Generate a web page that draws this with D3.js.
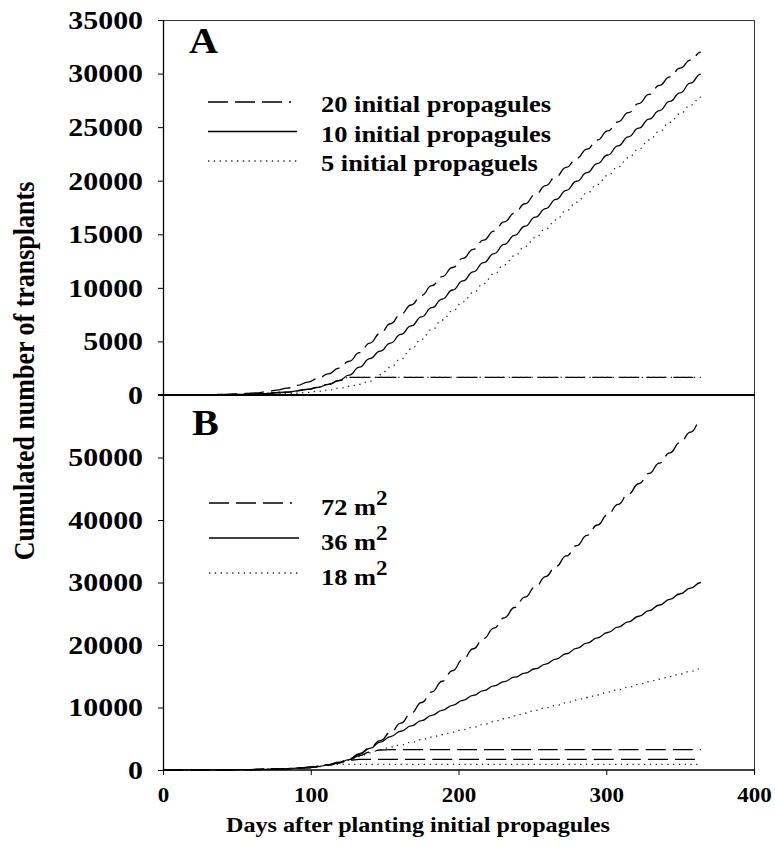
<!DOCTYPE html>
<html lang="en">
<head>
<meta charset="UTF-8">
<title>transplants</title>
<style>
    body { margin: 0; background-color: #fff; }
    svg { display: block; }
    text { font-family: "Liberation Serif", "Times New Roman", serif; font-weight: bold; fill: #000; }
    .curve { fill: none; stroke: #000; stroke-width: 1.3px; }
    .dash { stroke-dasharray: 20,7; }
    .dot { stroke: #222; stroke-dasharray: 1.3,4.5; }
    .frame { stroke: #333; stroke-width: 1px; }
</style>
</head>
<body>
<script src="https://d3js.org/d3.v7.min.js"></script>
<script>
    // sampling days (weekly)
    var days = [0,7,14,21,28,35,42,49,56,63,70,77,84,91,98,105,112,119,126,133,140,147,154,161,168,175,182,189,196,203,
        210,217,224,231,238,245,252,259,266,273,280,287,294,301,308,315,322,329,336,343,350,357,364];

    // panel A : number of initial propagules
    var a20 = [0,5,10,20,30,45,65,95,140,200,300,450,650,900,1200,1550,1980,2500,3150,3950,4850,5750,6650,7550,8400,9300,
        10200,11050,11900,12750,13600,14450,15300,16150,17000,17850,18700,19550,20400,21250,22100,22950,23800,24650,25500,
        26350,27200,28050,28900,29700,30500,31250,32000];
    var a10 = [0,3,6,10,15,22,32,45,65,95,135,190,270,380,520,720,1000,1350,1850,2600,3400,4100,4850,5650,6450,7300,8150,
        8950,9800,10650,11500,12350,13200,14050,14900,15750,16600,17400,18250,19100,19950,20750,21600,22400,23250,24100,
        24900,25750,26550,27400,28200,29100,29950];
    var a5 = [0,1,3,5,8,12,17,24,34,48,68,95,130,180,250,340,460,620,800,1000,1300,1900,2600,3350,4300,5200,6100,7000,
        7850,8700,9550,10400,11300,12150,13000,13850,14700,15500,16350,17200,18000,18850,19650,20500,21300,22150,22950,
        23800,24600,25450,26250,27050,27800];
    // plateau (day, value)
    var capA = [[0,0],[28,15],[56,65],[84,270],[98,520],[105,720],[112,1000],[119,1350],[126,1640],[364,1640]];

    // panel B : garden area
    var b72 = [0,2,5,8,12,18,26,38,55,80,115,160,220,300,400,580,870,1250,1800,2600,3550,4700,6000,7500,9100,10800,12500,
        14200,15900,17700,19400,21050,22700,24350,26000,27650,29300,30950,32600,34250,35900,37550,39200,40850,42500,44150,
        45800,47450,49100,50750,52400,54050,55800];
    var b36 = [0,2,5,8,12,18,26,38,55,80,115,160,220,300,400,560,800,1150,1650,2500,3450,4450,5350,6200,7050,7900,8750,
        9550,10350,11150,11950,12700,13450,14150,14850,15500,16200,16950,17750,18600,19450,20300,21150,22000,22850,23700,
        24600,25500,26400,27300,28200,29100,30000];
    var b18 = [0,2,5,8,12,18,26,38,55,80,115,160,220,300,380,540,780,1100,1550,2150,2750,3250,3650,4050,4450,4850,5250,
        5650,6050,6450,6850,7300,7750,8200,8650,9100,9550,9950,10350,10750,11200,11600,12000,12450,12850,13250,13700,14100,
        14550,14950,15350,15800,16200];
    var capB72 = [[0,0],[28,12],[56,55],[84,220],[98,400],[105,560],[112,800],[119,1150],[126,1650],[133,2300],[140,2850],
        [147,3200],[154,3250],[364,3250]];
    var capB36 = [[0,0],[28,12],[56,55],[84,220],[98,400],[105,560],[112,800],[119,1150],[126,1550],[133,1700],[364,1700]];
    var capB18 = [[0,0],[28,12],[56,55],[84,220],[98,380],[105,540],[112,780],[119,900],[364,900]];

    var ticksA = [0,5000,10000,15000,20000,25000,30000,35000];
    var ticksB = [0,10000,20000,30000,40000,50000];
    var ticksX = [0,100,200,300,400];
    var legendA = ["20 initial propagules", "10 initial propagules", "5 initial propaguels"];
    var legendB = ["72", "36", "18"];

    var SX = 1.15; // the original figure is a little stretched sideways

    var svg = d3.select("body").append("svg")
        .attr("width", 775)
        .attr("height", 854);

    var x = d3.scaleLinear().domain([0, 400]).range([163, 754]);
    var yA = d3.scaleLinear().domain([0, 35000]).range([395, 20]);
    var yB = d3.scaleLinear().domain([0, 60000]).range([770, 395]);

    function label(str, tx, ty, size, anchor) {
        return svg.append("text")
            .attr("transform", "translate(" + tx + "," + ty + ") scale(" + SX + ",1)")
            .attr("text-anchor", anchor || "start")
            .style("font-size", size + "px")
            .text(str);
    }

    function drawCurve(y, pts, cls) {
        var line = d3.line()
            .x(function (d) { return x(d[0]); })
            .y(function (d) { return y(d[1]); })
            .curve(d3.curveBumpX);
        svg.append("path")
            .datum(pts)
            .attr("class", "curve " + cls)
            .attr("d", line);
    }

    // curves
    drawCurve(yA, capA, "dash");
    drawCurve(yA, capA, "dot");
    drawCurve(yA, d3.zip(days, a20), "dash");
    drawCurve(yA, d3.zip(days, a10), "solid");
    drawCurve(yA, d3.zip(days, a5), "dot");

    drawCurve(yB, capB72, "dash");
    drawCurve(yB, capB36, "dash");
    drawCurve(yB, capB18, "dot");
    drawCurve(yB, d3.zip(days, b72), "dash");
    drawCurve(yB, d3.zip(days, b36), "solid");
    drawCurve(yB, d3.zip(days, b18), "dot");

    // frame
    svg.append("line").attr("class", "frame")
        .attr("x1", 163).attr("x2", 754).attr("y1", 20.5).attr("y2", 20.5);
    svg.append("line").attr("class", "frame")
        .attr("x1", 754.5).attr("x2", 754.5).attr("y1", 20).attr("y2", 770);

    // axes
    function styleAxis(g, size) {
        g.select(".domain").remove();
        g.selectAll(".tick line").attr("stroke", "#000");
        g.selectAll(".tick text")
            .attr("fill", "#000")
            .style("font-size", size + "px")
            .attr("transform", "scale(" + SX + ",1)")
            .attr("x", function () { return +d3.select(this).attr("x") / SX; });
    }

    var axA = svg.append("g").attr("transform", "translate(163,0)")
        .call(d3.axisLeft(yA).tickValues(ticksA).tickSize(5).tickPadding(15).tickFormat(d3.format("d")));
    styleAxis(axA, 26);
    var axB = svg.append("g").attr("transform", "translate(163,0)")
        .call(d3.axisLeft(yB).tickValues(ticksB).tickSize(5).tickPadding(15).tickFormat(d3.format("d")));
    styleAxis(axB, 26);
    var axX = svg.append("g").attr("transform", "translate(0,770)")
        .call(d3.axisBottom(x).tickValues(ticksX).tickSize(5).tickPadding(13).tickFormat(d3.format("d")));
    styleAxis(axX, 20);

    svg.append("line").attr("stroke", "#000").attr("stroke-width", 1.3)
        .attr("x1", 163.5).attr("x2", 163.5).attr("y1", 20).attr("y2", 770);
    svg.append("line").attr("stroke", "#000").attr("stroke-width", 2)
        .attr("x1", 158).attr("x2", 755).attr("y1", 395).attr("y2", 395);
    svg.append("line").attr("stroke", "#000").attr("stroke-width", 1.3)
        .attr("x1", 163).attr("x2", 755).attr("y1", 770).attr("y2", 770);

    // panel letters
    label("A", 189, 53, 35);
    label("B", 192, 435, 35);

    // legend A
    var styles = ["dash", "solid", "dot"];
    legendA.forEach(function (t, i) {
        var ly = 102 + i * 29.5;
        svg.append("line").attr("class", "curve " + styles[i])
            .attr("stroke", "#444").attr("stroke-width", 1)
            .attr("x1", 208).attr("x2", i === 0 ? 291 : 297)
            .attr("y1", ly).attr("y2", ly);
        label(t, 321, ly + 10, 23);
    });

    // legend B
    legendB.forEach(function (t, i) {
        var ly = 503 + i * 35;
        svg.append("line").attr("class", "curve " + styles[i])
            .attr("stroke", "#444").attr("stroke-width", 1)
            .attr("x1", 209).attr("x2", i === 0 ? 292 : 299)
            .attr("y1", ly).attr("y2", ly);
        var tx = label(t + " m", 321, ly + 12, 23);
        tx.append("tspan").attr("dy", -10).style("font-size", "20px").text("2");
    });

    // axis titles
    label("Days after planting initial propagules", 418, 832, 21, "middle");
    svg.append("text")
        .attr("transform", "translate(34,371) rotate(-90) scale(1," + SX + ")")
        .attr("text-anchor", "middle")
        .style("font-size", "26px")
        .text("Cumulated number of transplants");
</script>
</body>
</html>
